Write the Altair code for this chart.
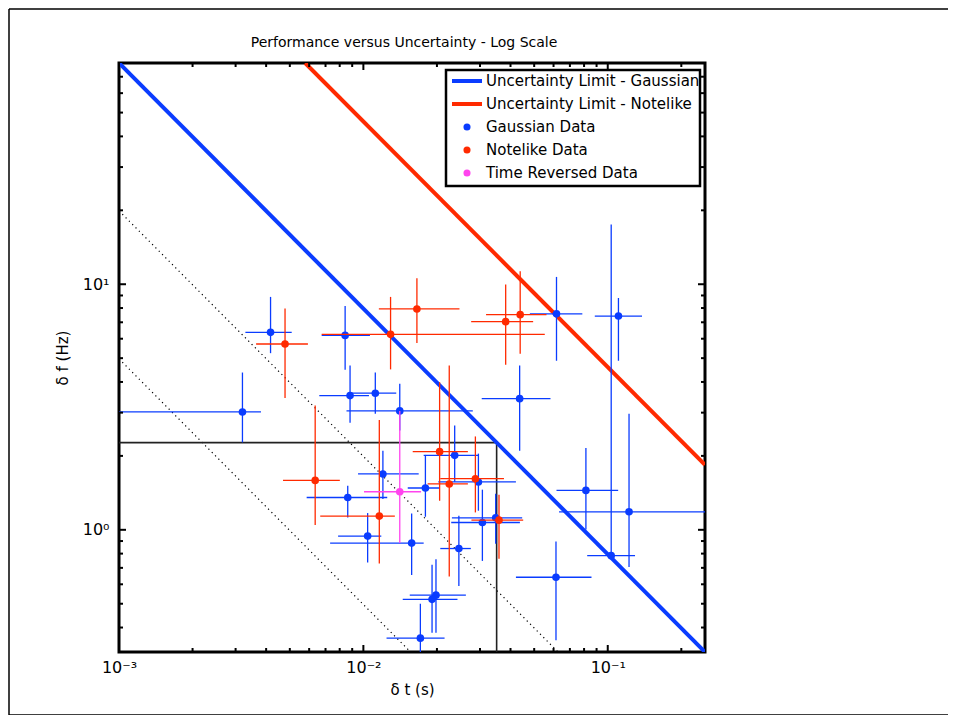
import altair as alt
import pandas as pd

W, H = 586, 589
FONT = "DejaVu Sans"

# ---------------- data ----------------
# Gaussian data (blue)
g_dt    = [0.00417, 0.00320, 0.00842, 0.0617, 0.1106, 0.0436, 0.1033, 0.0814, 0.1222, 0.0614,
           0.00882, 0.01119, 0.01409, 0.00863, 0.01202, 0.01041, 0.01576, 0.01794, 0.02364,
           0.02956, 0.03069, 0.03479, 0.02459, 0.01982, 0.01910, 0.01711]
g_dt_lo = [0.00329, 0.00100, 0.00675, 0.0480, 0.0885, 0.0305, 0.0824, 0.0617, 0.0632, 0.0421,
           0.00660, 0.00888, 0.00853, 0.00586, 0.00951, 0.00788, 0.00731, 0.01519, 0.01765,
           0.02026, 0.02288, 0.02303, 0.02064, 0.01548, 0.01449, 0.01244]
g_dt_hi = [0.00509, 0.00381, 0.01064, 0.0787, 0.1381, 0.0583, 0.1293, 0.1103, 0.30, 0.0858,
           0.01054, 0.01363, 0.02804, 0.01252, 0.01684, 0.01184, 0.01765, 0.02051, 0.02956,
           0.04209, 0.04370, 0.04465, 0.02752, 0.02627, 0.02427, 0.02149]
g_df    = [6.37, 3.02, 6.19, 7.58, 7.42, 3.42, 0.785, 1.447, 1.184, 0.641, 3.52, 3.60, 3.05,
           1.354, 1.688, 0.943, 0.883, 1.480, 2.010, 1.566, 1.071, 1.119, 0.839, 0.542, 0.521, 0.362]
g_df_hi = [8.88, 4.37, 8.15, 10.71, 8.79, 4.67, 17.5, 2.155, 2.97, 0.896, 4.67, 4.37, 3.93,
           1.512, 2.101, 1.170, 1.166, 2.018, 2.658, 2.043, 1.457, 1.403, 1.141, 0.759, 0.720, 0.500]
g_df_lo = [5.24, 2.27, 4.49, 4.88, 4.88, 2.10, 0.785, 1.003, 0.706, 0.355, 2.73, 2.97, 2.54,
           1.122, 1.335, 0.736, 0.655, 1.130, 1.570, 1.196, 0.747, 0.877, 0.591, 0.381, 0.381, 0.31]

# Notelike data (red)
n_dt    = [0.00478, 0.01292, 0.01656, 0.03822, 0.04382, 0.00635, 0.01162, 0.02051, 0.02246, 0.02873, 0.03589]
n_dt_lo = [0.00364, 0.00675, 0.01157, 0.02761, 0.03177, 0.00469, 0.00666, 0.01592, 0.01832, 0.02064, 0.02768]
n_dt_hi = [0.00593, 0.05525, 0.02473, 0.04951, 0.05614, 0.00801, 0.01345, 0.02677, 0.02677, 0.03761, 0.04508]
n_df    = [5.71, 6.25, 7.93, 7.04, 7.52, 1.589, 1.137, 2.081, 1.537, 1.615, 1.095]
n_df_hi = [7.96, 8.88, 10.58, 9.97, 11.30, 3.21, 2.80, 3.99, 4.67, 2.40, 1.389]
n_df_lo = [3.44, 4.50, 5.76, 4.70, 5.21, 1.045, 0.729, 1.313, 0.645, 1.177, 0.763]

# Time reversed data (magenta)
r_dt, r_dt_lo, r_dt_hi = [0.01409], [0.01006], [0.01722]
r_df, r_df_lo, r_df_hi = [1.429], [0.883], [3.05]

# Limit lines (end points, straight in log-log)
gauss_dt, gauss_df = [0.001, 0.25], [79.6, 0.318]
note_dt, note_df = [0.00578, 0.25], [79.6, 1.84]
dot1_dt, dot1_df = [0.001, 0.0626], [19.9, 0.318]
dot2_dt, dot2_df = [0.001, 0.0156], [4.97, 0.318]
box_dt, box_df = [0.001, 0.0351, 0.0351], [2.265, 2.265, 0.318]

# Axes
x_domain = [0.001, 0.25]
y_domain = [0.318, 79.6]
x_major = [0.001, 0.01, 0.1]
x_minor = [0.002, 0.003, 0.004, 0.005, 0.006, 0.007, 0.008, 0.009,
           0.02, 0.03, 0.04, 0.05, 0.06, 0.07, 0.08, 0.09, 0.2]
y_major = [1, 10]
y_minor = [0.4, 0.5, 0.6, 0.7, 0.8, 0.9, 2, 3, 4, 5, 6, 7, 8, 9, 20, 30, 40, 50, 60, 70]

title_text = "Performance versus Uncertainty - Log Scale"
legend_labels = ["Uncertainty Limit - Gaussian", "Uncertainty Limit - Notelike",
                 "Gaussian Data", "Notelike Data", "Time Reversed Data"]
legend_kinds = ["line", "line", "point", "point", "point"]

BLUE = "#0a3cff"
RED = "#ff2a00"
PINK = "#ff44ee"
legend_colors = [BLUE, RED, BLUE, RED, PINK]

# ---------------- chart ----------------
xs = alt.Scale(type="log", domain=x_domain, nice=False)
ys = alt.Scale(type="log", domain=y_domain, nice=False)

xaxis = alt.Axis(values=x_major, ticks=False, domain=False, grid=False,
                 labelExpr="datum.value < 0.005 ? '10⁻³' : (datum.value < 0.05 ? '10⁻²' : '10⁻¹')",
                 labelFont=FONT, labelFontSize=16, labelColor="black", labelPadding=7,
                 labelFlush=False, title="δ t (s)", titleFont=FONT, titleFontSize=15,
                 titleFontWeight="normal", titleColor="black", titlePadding=7)
yaxis = alt.Axis(values=y_major, ticks=False, domain=False, grid=False,
                 labelExpr="datum.value < 5 ? '10⁰' : '10¹'",
                 labelFont=FONT, labelFontSize=16, labelColor="black", labelPadding=10,
                 labelFlush=False, title="δ f (Hz)", titleFont=FONT, titleFontSize=15,
                 titleFontWeight="normal", titleColor="black", titlePadding=12)


def X(field):
    return alt.X(field, type="quantitative", scale=xs, axis=xaxis)


def Y(field):
    return alt.Y(field, type="quantitative", scale=ys, axis=yaxis)


def series(dt, lo_t, hi_t, df, lo_f, hi_f):
    return pd.DataFrame({"t": dt, "t_lo": lo_t, "t_hi": hi_t, "f": df, "f_lo": lo_f, "f_hi": hi_f})


gdf = series(g_dt, g_dt_lo, g_dt_hi, g_df, g_df_lo, g_df_hi)
ndf = series(n_dt, n_dt_lo, n_dt_hi, n_df, n_df_lo, n_df_hi)
rdf = series(r_dt, r_dt_lo, r_dt_hi, r_df, r_df_lo, r_df_hi)

layers = []


def line_layer(dts, dfs, color, width, dash=None):
    d = pd.DataFrame({"t": dts, "f": dfs, "o": list(range(len(dts)))})
    kw = dict(color=color, strokeWidth=width, clip=True)
    if dash:
        kw["strokeDash"] = dash
    return alt.Chart(d).mark_line(**kw).encode(x=X("t"), y=Y("f"), order="o:Q")


layers.append(line_layer(dot1_dt, dot1_df, "black", 1.2, [1.2, 3.5]))
layers.append(line_layer(dot2_dt, dot2_df, "black", 1.2, [1.2, 3.5]))
layers.append(line_layer(box_dt, box_df, "#222222", 1.6))
layers.append(line_layer(gauss_dt, gauss_df, BLUE, 4))
layers.append(line_layer(note_dt, note_df, RED, 4))


def err_layers(d, color):
    h = alt.Chart(d).mark_rule(color=color, strokeWidth=1.3, clip=True).encode(
        x=X("t_lo"), x2="t_hi", y=Y("f"))
    v = alt.Chart(d).mark_rule(color=color, strokeWidth=1.3, clip=True).encode(
        x=X("t"), y=Y("f_lo"), y2="f_hi")
    return [h, v]


def pt_layer(d, color):
    return alt.Chart(d).mark_circle(color=color, size=58, opacity=1, clip=True).encode(
        x=X("t"), y=Y("f"))


layers += err_layers(gdf, BLUE)
layers.append(pt_layer(gdf, BLUE))
layers += err_layers(ndf, RED)
layers.append(pt_layer(ndf, RED))
layers += err_layers(rdf, PINK)
layers.append(pt_layer(rdf, PINK))

# inward ticks on all four sides
xmaj = pd.DataFrame({"t": x_major})
xmin = pd.DataFrame({"t": x_minor})
ymaj = pd.DataFrame({"f": y_major})
ymin = pd.DataFrame({"f": y_minor})
for d, L in [(xmaj, 7), (xmin, 4)]:
    layers.append(alt.Chart(d).mark_rule(color="black", strokeWidth=2).encode(
        x=X("t"), y=alt.value(H), y2=alt.value(H - L)))
    layers.append(alt.Chart(d).mark_rule(color="black", strokeWidth=2).encode(
        x=X("t"), y=alt.value(0), y2=alt.value(L)))
for d, L in [(ymaj, 7), (ymin, 4)]:
    layers.append(alt.Chart(d).mark_rule(color="black", strokeWidth=2).encode(
        y=Y("f"), x=alt.value(0), x2=alt.value(L)))
    layers.append(alt.Chart(d).mark_rule(color="black", strokeWidth=2).encode(
        y=Y("f"), x=alt.value(W), x2=alt.value(W - L)))

# legend box
one = pd.DataFrame({"a": [0]})
layers.append(alt.Chart(one).mark_rect(fill="white", stroke="black", strokeWidth=2.5).encode(
    x=alt.value(327), x2=alt.value(581), y=alt.value(7), y2=alt.value(123)))
leg = pd.DataFrame({"label": legend_labels, "kind": legend_kinds, "color": legend_colors})
for i in range(len(legend_labels)):
    ry = 18 + 23 * i
    row = leg.iloc[[i]]
    if legend_kinds[i] == "line":
        layers.append(alt.Chart(row).mark_rule(color=legend_colors[i], strokeWidth=4).encode(
            x=alt.value(333), x2=alt.value(363), y=alt.value(ry)))
    else:
        layers.append(alt.Chart(row).mark_circle(color=legend_colors[i], size=50, opacity=1).encode(
            x=alt.value(348), y=alt.value(ry)))
    layers.append(alt.Chart(row).mark_text(align="left", baseline="middle", font=FONT,
                                           fontSize=15, color="black").encode(
        x=alt.value(367), y=alt.value(ry), text="label:N"))

# title as text
tdf = pd.DataFrame({"title": [title_text]})
layers.append(alt.Chart(tdf).mark_text(align="center", baseline="middle", font=FONT,
                                       fontSize=14, color="black").encode(
    x=alt.value(W / 2 - 8), y=alt.value(-20), text="title:N"))

# outer figure border: top, left and bottom edges (the right one is off the page)
layers.append(alt.Chart(one).mark_rule(color="black", strokeWidth=1.5).encode(
    x=alt.value(-110), x2=alt.value(829), y=alt.value(-54)))
layers.append(alt.Chart(one).mark_rule(color="black", strokeWidth=1.5).encode(
    x=alt.value(-110), x2=alt.value(829), y=alt.value(652)))
layers.append(alt.Chart(one).mark_rule(color="black", strokeWidth=1.5).encode(
    x=alt.value(-110), y=alt.value(-54), y2=alt.value(652)))

chart = alt.layer(*layers).properties(
    width=W, height=H,
    autosize=alt.AutoSizeParams(type="none"),
    padding={"left": 111, "top": 55, "right": 243, "bottom": 63},
).configure_view(stroke="black", strokeWidth=3)

chart.save("out.html", embed_options={"renderer": "svg", "actions": False})
